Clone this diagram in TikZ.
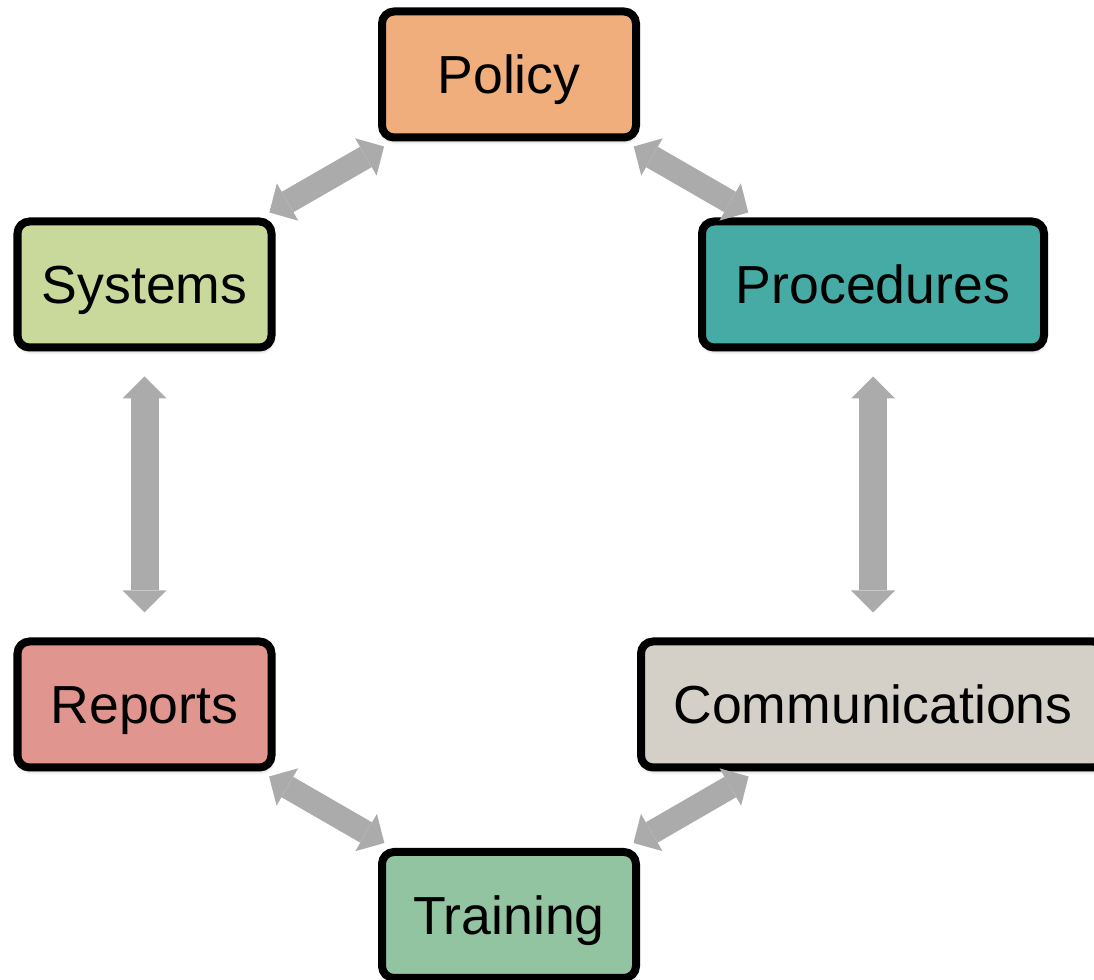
\documentclass[tikz,border=0pt]{standalone}
\usepackage{fontspec}
\setmainfont{Liberation Sans}
\usetikzlibrary{positioning,arrows.meta,shadows.blur}
\definecolor{policyorange}{HTML}{F0AE7C}
\definecolor{systemsgreen}{HTML}{C9D99C}
\definecolor{procteal}{HTML}{45ABA4}
\definecolor{reportspink}{HTML}{E0968E}
\definecolor{commgray}{HTML}{D4D0C8}
\definecolor{traininggreen}{HTML}{93C4A1}
\definecolor{linkgray}{HTML}{ABABAB}

\tikzset{
  box/.style={draw=black, line width=0.16cm, rounded corners=0.24cm,
    minimum width=5.08cm, minimum height=2.52cm,
    font=\fontsize{30.5}{36}\selectfont, text height=21.8pt, text depth=0pt,
    blur shadow={shadow xshift=0.5pt, shadow yshift=-2pt, shadow blur steps=6, shadow opacity=30}},
  link/.style={draw=linkgray, line width=0.56cm,
    {Triangle[length=0.44cm,width=0.88cm,line width=0pt]}-{Triangle[length=0.44cm,width=0.88cm,line width=0pt]},
    shorten <=0.5cm, shorten >=0.5cm},
  diaglink/.style={draw=linkgray, line width=0.47cm,
    {Triangle[length=0.42cm,width=0.86cm,line width=0pt]}-{Triangle[length=0.42cm,width=0.86cm,line width=0pt]},
    shorten <=0.2cm, shorten >=0.2cm}
}

\begin{document}
\begin{tikzpicture}
\useasboundingbox (0,0) rectangle (21.88,19.6);
\clip (0,0) rectangle (21.88,19.6);

\node[box, fill=policyorange] (pol) at (10.18,18.11) {Policy};
  \node[box, fill=systemsgreen] (sys) at (2.89,13.91) {Systems};
  \node[box, fill=procteal, minimum width=6.84cm] (proc) at (17.46,13.91) {Procedures};
  \node[box, fill=reportspink] (rep) [below=5.72cm of sys] {Reports};
  \node[box, fill=commgray, minimum width=9.28cm] (comm) [below=5.72cm of proc] {Communications};
  \node[box, fill=traininggreen] (train) at (10.18,1.30) {Training};

   \draw[diaglink] (pol) -- (sys);
   \draw[diaglink] (pol) -- (proc);
   \draw[link] (sys) -- (rep);
   \draw[link] (proc) -- (comm);
   \draw[diaglink] (rep) -- (train);
   \draw[diaglink] (comm) -- (train);
\end{tikzpicture}
\end{document}
